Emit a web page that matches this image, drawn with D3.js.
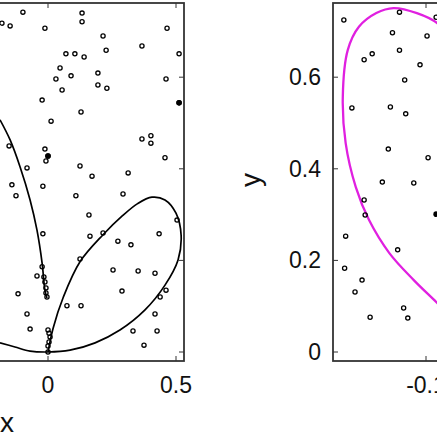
<!DOCTYPE html>
<html><head><meta charset="utf-8">
<script src="https://cdn.jsdelivr.net/npm/d3@7"></script>
<style>body{margin:0;background:#fff}</style>
</head><body><div id="chart"></div>
<script>
// left panel: curves and sample points
const loopCurve = [[-0.1875,0.020],[-0.129,0.011],[-0.070,0.002],[0,0],[0.086,0.004],[0.184,0.020],[0.281,0.048],[0.379,0.092],[0.457,0.146],[0.508,0.201],[0.520,0.255],[0.500,0.303],[0.457,0.332],[0.406,0.338],[0.350,0.324],[0.290,0.297],[0.215,0.256],[0.125,0.197],[0.060,0.120],[0.020,0.052],[0,0]];
const stemCurve = [[-0.1875,0.507],[-0.148,0.463],[-0.109,0.404],[-0.070,0.332],[-0.043,0.266],[-0.023,0.194],[-0.012,0.135],[-0.004,0.118]];
const leftDots = [[-0.098,0.742],[0.133,0.740],[0.133,0.721],[-0.180,0.718],[-0.148,0.712],[-0.012,0.707],[0.465,0.707],[0.215,0.690],[0.367,0.668],[0.227,0.659],[0.070,0.651],[0.105,0.651],[0.141,0.644],[0.512,0.651],[0.047,0.620],[0.195,0.609],[0.090,0.603],[0.031,0.596],[0.461,0.596],[0.195,0.583],[0.230,0.576],[0.055,0.572],[-0.023,0.550],[0.512,0.544],[0.129,0.524],[0.012,0.504],[-0.152,0.450],[0.402,0.472],[0.367,0.465],[0.402,0.456],[-0.012,0.443],[0,0.428],[-0.008,0.417],[0.457,0.424],[-0.082,0.402],[0.125,0.406],[0.313,0.391],[0.172,0.384],[-0.141,0.365],[-0.020,0.362],[-0.125,0.341],[0.109,0.341],[0.293,0.345],[0.160,0.299],[-0.020,0.258],[0.164,0.253],[0.215,0.260],[0.273,0.242],[0.324,0.234],[0.434,0.258],[0.504,0.288],[0.125,0.203],[0.254,0.179],[0.352,0.177],[0.418,0.172],[-0.043,0.166],[0.289,0.133],[0.461,0.135],[0.438,0.120],[-0.117,0.127],[0.074,0.101],[0.129,0.101],[-0.082,0.083],[0.418,0.083],[-0.070,0.050],[0.332,0.046],[0.426,0.046],[0.375,0.015],
  [-0.023,0.186],[-0.016,0.164],[-0.012,0.153],[-0.008,0.140],[-0.008,0.129],[-0.004,0.120],
  [0,0.048],[0.004,0.041],[0.008,0.033],[0.004,0.022],[0,0.013],[0,0]];
const leftFilled = [[0.512,0.544],[0,0.428]];
const leftXTicks = [0, 0.5];
const leftXLabels = ["0", "0.5"];

// right panel
const rightCurve = [[-0.02,0.69],[-0.057,0.718],[-0.135,0.740],[-0.225,0.751],[-0.291,0.740],[-0.358,0.710],[-0.401,0.659],[-0.420,0.557],[-0.409,0.456],[-0.370,0.360],[-0.319,0.288],[-0.241,0.216],[-0.147,0.157],[-0.057,0.107],[-0.02,0.085]];
const rightDots = [[-0.416,0.725],[-0.202,0.742],[-0.061,0.731],[-0.229,0.697],[-0.096,0.690],[-0.202,0.659],[-0.338,0.638],[-0.307,0.651],[-0.123,0.627],[-0.182,0.594],[-0.385,0.533],[-0.237,0.535],[-0.178,0.520],[-0.245,0.443],[-0.092,0.424],[-0.268,0.371],[-0.147,0.369],[-0.338,0.332],[-0.334,0.299],[-0.409,0.253],[-0.209,0.223],[-0.413,0.183],[-0.346,0.157],[-0.373,0.131],[-0.186,0.096],[-0.170,0.074],[-0.315,0.076]];
const rightFilled = [[-0.061,0.301]];
const rightXTicks = [-0.1];
const rightXLabels = ["-0.1"];
const yTicks = [0, 0.2, 0.4, 0.6];
const yLabels = ["0", "0.2", "0.4", "0.6"];

const W = 437, H = 437;
const font = "Liberation Sans, Arial, sans-serif";
const svg = d3.select("#chart").append("svg").attr("width", W).attr("height", H);

const y = d3.scaleLinear().domain([0, 0.2]).range([352, 260.4]);

function panel(id, x0, x1, xDomain, xRange, curves, color, dots, filled, xt, xl, yLabelSide) {
  const x = d3.scaleLinear().domain(xDomain).range(xRange);
  const g = svg.append("g");
  svg.append("clipPath").attr("id", id).append("rect")
    .attr("x", x0).attr("y", 3).attr("width", x1 - x0).attr("height", 358);
  const inner = g.append("g").attr("clip-path", `url(#${id})`);
  const line = d3.line().x(d => x(d[0])).y(d => y(d[1])).curve(d3.curveCatmullRom.alpha(0.5));
  inner.selectAll("path.c").data(curves).join("path")
    .attr("d", line).attr("fill", "none").attr("stroke", color).attr("stroke-width", color === "#000" ? 1.7 : 2.3);
  inner.selectAll("circle.o").data(dots).join("circle")
    .attr("cx", d => x(d[0])).attr("cy", d => y(d[1])).attr("r", 2.1)
    .attr("fill", "none").attr("stroke", "#000").attr("stroke-width", 1.3);
  inner.selectAll("circle.f").data(filled).join("circle")
    .attr("cx", d => x(d[0])).attr("cy", d => y(d[1])).attr("r", 2.8).attr("fill", "#000");
  g.append("rect").attr("x", x0).attr("y", 3).attr("width", x1 - x0).attr("height", 358)
    .attr("fill", "none").attr("stroke", "#333").attr("stroke-width", 1.8);
  // inward ticks
  xt.forEach(t => {
    g.append("line").attr("x1", x(t)).attr("x2", x(t)).attr("y1", 361).attr("y2", 356).attr("stroke", "#333");
    g.append("line").attr("x1", x(t)).attr("x2", x(t)).attr("y1", 3).attr("y2", 8).attr("stroke", "#333");
  });
  yTicks.forEach(t => {
    g.append("line").attr("x1", x0).attr("x2", x0 + 5).attr("y1", y(t)).attr("y2", y(t)).attr("stroke", "#333");
    g.append("line").attr("x1", x1).attr("x2", x1 - 5).attr("y1", y(t)).attr("y2", y(t)).attr("stroke", "#333");
  });
  g.selectAll("text.xl").data(xt).join("text")
    .attr("x", d => x(d)).attr("y", 393).attr("text-anchor", "middle")
    .attr("font-family", font).attr("font-size", 23).attr("fill", "#111")
    .text((d, i) => xl[i]);
  if (yLabelSide) {
    g.selectAll("text.yl").data(yTicks).join("text")
      .attr("x", x0 - 12).attr("y", d => y(d) + 8).attr("text-anchor", "end")
      .attr("font-family", font).attr("font-size", 23).attr("fill", "#111")
      .text((d, i) => yLabels[i]);
  }
}

panel("cl", -5, 184, [0, 0.5], [48, 176], [loopCurve, stemCurve], "#000", leftDots, leftFilled, leftXTicks, leftXLabels, false);
panel("cr", 333, 445, [-0.1, 0], [426, 452], [rightCurve], "#e020e0", rightDots, rightFilled, rightXTicks, rightXLabels, true);

svg.append("text").attr("x", 0).attr("y", 432).attr("font-family", font).attr("font-size", 28).attr("fill", "#111").text("x");
svg.append("text").attr("transform", "translate(260,180) rotate(-90)").attr("text-anchor", "middle")
  .attr("font-family", font).attr("font-size", 28).attr("fill", "#111").text("y");
</script></body></html>
